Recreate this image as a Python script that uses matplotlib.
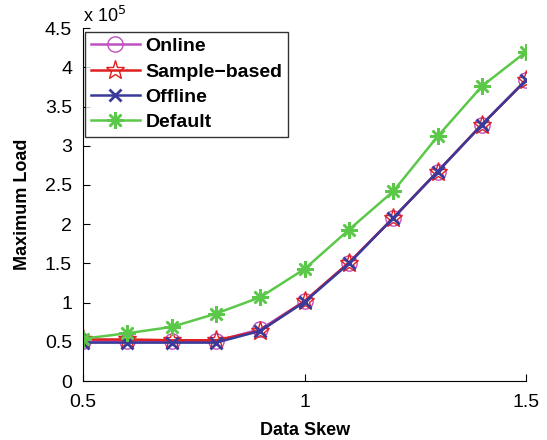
import matplotlib
matplotlib.use('Agg')
import matplotlib.pyplot as plt

plt.rcParams['font.family'] = ['Liberation Sans', 'DejaVu Sans']

skew = [0.5, 0.6, 0.7, 0.8, 0.9, 1.0, 1.1, 1.2, 1.3, 1.4, 1.5]
online = [0.51, 0.51, 0.51, 0.51, 0.66, 1.02, 1.51, 2.08, 2.67, 3.27, 3.84]
sample_based = [0.53, 0.53, 0.52, 0.52, 0.64, 1.02, 1.51, 2.08, 2.67, 3.27, 3.84]
offline = [0.49, 0.49, 0.49, 0.49, 0.64, 1.01, 1.50, 2.08, 2.67, 3.27, 3.84]
default = [0.54, 0.61, 0.69, 0.86, 1.07, 1.43, 1.93, 2.42, 3.12, 3.76, 4.20]

fig = plt.figure(figsize=(5.47, 4.40), dpi=100)
ax = fig.add_axes([0.152, 0.134, 0.810, 0.802])

ax.plot(skew, online, color='#c050c0', marker='o', markersize=11,
        markerfacecolor='none', lw=1.8, label='Online')
ax.plot(skew, sample_based, color='#e02020', marker='*', markersize=14,
        markerfacecolor='none', lw=1.8, label='Sample\u2212based')
ax.plot(skew, offline, color='#3a3a9a', marker='x', markersize=9,
        markeredgewidth=2.0, lw=1.8, label='Offline')
ax.plot(skew, default, color='#5cc84a', marker=(8, 2, 0), markersize=12,
        markeredgewidth=1.8, lw=1.8, label='Default')

ax.set_xlim(0.5, 1.5)
ax.set_ylim(0, 4.5)
ax.set_xticks([0.5, 1, 1.5])
ax.set_xticklabels(['0.5', '1', '1.5'])
ax.set_yticks([0, 0.5, 1, 1.5, 2, 2.5, 3, 3.5, 4, 4.5])
ax.set_yticklabels(['0', '0.5', '1', '1.5', '2', '2.5', '3', '3.5', '4', '4.5'])
ax.tick_params(direction='in', labelsize=14, length=5)
ax.tick_params(axis='x', pad=9)
ax.tick_params(axis='y', pad=8)
ax.spines['top'].set_visible(False)
ax.spines['right'].set_visible(False)

ax.set_xlabel('Data Skew', fontsize=13, fontweight='bold', labelpad=8)
ax.set_ylabel('Maximum Load', fontsize=13, fontweight='bold', labelpad=10)
ax.text(0.0, 1.005, r'x 10$^5$', transform=ax.transAxes, fontsize=13,
        ha='left', va='bottom')

leg = ax.legend(loc='upper left', bbox_to_anchor=(0.005, 0.99), fancybox=False,
                edgecolor='black', prop={'weight': 'bold', 'size': 14},
                handlelength=2.5, borderpad=0.3, labelspacing=0.4,
                handletextpad=0.3, borderaxespad=0.0)
leg.get_frame().set_linewidth(1.0)

fig.savefig('out.png', dpi=100)
